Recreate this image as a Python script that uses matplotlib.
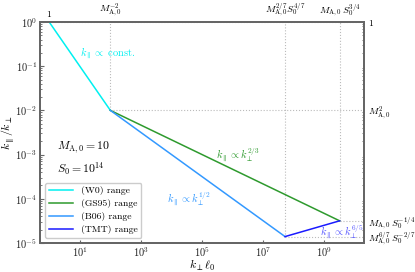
import numpy as np
import matplotlib
matplotlib.use("Agg")
import matplotlib.pyplot as plt
from matplotlib.ticker import LogLocator, NullFormatter

plt.rcParams["font.family"] = "serif"
plt.rcParams["font.serif"] = ["cmr10"]
plt.rcParams["mathtext.fontset"] = "cm"
plt.rcParams["axes.formatter.use_mathtext"] = True

# break points (k_perp l_0, k_par/k_perp)
w0_x = [1.0, 1e2]
w0_y = [1.0, 1e-2]
gs95_x = [1e2, 3.16e9]
gs95_y = [1e-2, 3.16e-5]
b06_x = [1e2, 5.18e7]
b06_y = [1e-2, 1.39e-5]
tmt_x = [5.18e7, 3.16e9]
tmt_y = [1.39e-5, 3.16e-5]

top_ticks = [1.0, 1e2, 5.18e7, 3.16e9]
top_labels = ["$1$", r"$M_{\mathrm{A},0}^{-2}$",
              r"$M_{\mathrm{A},0}^{2/7}S_0^{4/7}$", r"$M_{\mathrm{A},0}\,S_0^{3/4}$"]
right_ticks = [1.0, 1e-2, 3.16e-5, 1.39e-5]
right_labels = ["$1$", r"$M_{\mathrm{A},0}^{2}$",
                r"$M_{\mathrm{A},0}\,S_0^{-1/4}$", r"$M_{\mathrm{A},0}^{6/7}\,S_0^{-2/7}$"]

c_w0 = "#00f0f0"
c_gs = "#2e9a2e"
c_b06 = "#3399ff"
c_tmt = "#1a1aff"
spine_c = "#666666"

fig = plt.figure(figsize=(4.15, 2.72), dpi=100)
ax = fig.add_axes([0.0964, 0.107, 0.781, 0.812])

# guide lines
gc = dict(color="#bbbbbb", ls=":", lw=0.8, zorder=1)
xr = 2e10
ax.plot([1, xr], [1, 1], **gc)
ax.plot([1e2, xr], [1e-2, 1e-2], **gc)
ax.plot([1e2, 1e2], [1e-2, 1], **gc)
ax.plot([b06_x[1], b06_x[1]], [b06_y[1], 1], **gc)
ax.plot([gs95_x[1], gs95_x[1]], [gs95_y[1], 1], **gc)
ax.plot([gs95_x[1], xr], [gs95_y[1], gs95_y[1]], **gc)
ax.plot([tmt_x[0], xr], [tmt_y[0], tmt_y[0]], **gc)

ax.plot(w0_x, w0_y, color=c_w0, lw=1.1, label="(W0) range", zorder=3)
ax.plot(gs95_x, gs95_y, color=c_gs, lw=1.1, label="(GS95) range", zorder=3)
ax.plot(b06_x, b06_y, color=c_b06, lw=1.1, label="(B06) range", zorder=3)
ax.plot(tmt_x, tmt_y, color=c_tmt, lw=1.1, label="(TMT) range", zorder=3)

ax.set_xscale("log")
ax.set_yscale("log")
ax.set_xlim(0.5, 2e10)
ax.set_ylim(1e-5, 1)
ax.set_xticks([1e1, 1e3, 1e5, 1e7, 1e9])
ax.xaxis.set_minor_locator(plt.NullLocator())
ax.yaxis.set_major_locator(LogLocator(base=10, numticks=10))
ax.yaxis.set_minor_locator(LogLocator(base=10, subs=np.arange(2, 10), numticks=30))
ax.yaxis.set_minor_formatter(NullFormatter())
ax.tick_params(which="both", direction="in", labelsize=7.5, colors="#222222")
ax.tick_params(which="major", length=3, color=spine_c)
ax.tick_params(which="minor", length=1.5, color=spine_c)
ax.tick_params(axis="x", which="major", length=2, pad=2)
ax.tick_params(axis="y", pad=2)

for s in ax.spines.values():
    s.set_color(spine_c)
    s.set_linewidth(1.4)

ax.set_xlabel(r"$k_\perp \ell_0$", fontsize=8.5, labelpad=-1)
ax.set_ylabel(r"$k_\parallel / k_\perp$", fontsize=8.5)
ax.yaxis.set_label_coords(-0.07, 0.5)

axt = ax.twiny()
axt.set_xscale("log")
axt.set_xlim(ax.get_xlim())
axt.set_xticks(top_ticks)
axt.set_xticklabels(top_labels)
axt.xaxis.set_minor_locator(plt.NullLocator())
axt.tick_params(axis="x", length=0, labelsize=7, pad=2)

axr = ax.twinx()
axr.set_yscale("log")
axr.set_ylim(ax.get_ylim())
axr.set_yticks(right_ticks)
axr.set_yticklabels(right_labels)
axr.yaxis.set_minor_locator(LogLocator(base=10, subs=np.arange(2, 10), numticks=30))
axr.yaxis.set_minor_formatter(NullFormatter())
axr.tick_params(axis="y", which="major", length=0, labelsize=7, pad=3)
axr.tick_params(axis="y", which="minor", length=1.5, direction="in", color=spine_c)
for a in (axt, axr):
    for s in a.spines.values():
        s.set_color(spine_c)
        s.set_linewidth(1.4)

ax.text(10, 0.17, r"$k_\parallel \propto$ const.", color=c_w0, fontsize=7.5)
ax.text(2.9e5, 8e-4, r"$k_\parallel \propto k_\perp^{2/3}$", color=c_gs, fontsize=7.5)
ax.text(7e3, 8e-5, r"$k_\parallel \propto k_\perp^{1/2}$", color=c_b06, fontsize=7.5)
ax.text(7e8, 1.4e-5, r"$k_\parallel \propto k_\perp^{6/5}$", color="#5555ff", fontsize=7.5)
ax.text(1.8, 1.3e-3, r"$M_{\mathrm{A},0} = 10$", fontsize=8.5)
ax.text(1.8, 4e-4, r"$S_0 = 10^{14}$", fontsize=8.5)

ax.legend(loc="lower left", fontsize=7, frameon=True, framealpha=1,
          edgecolor="#cccccc", handlelength=2.5, borderpad=0.4, labelspacing=0.4,
          handletextpad=0.8)

fig.savefig("out.png", dpi=100)
